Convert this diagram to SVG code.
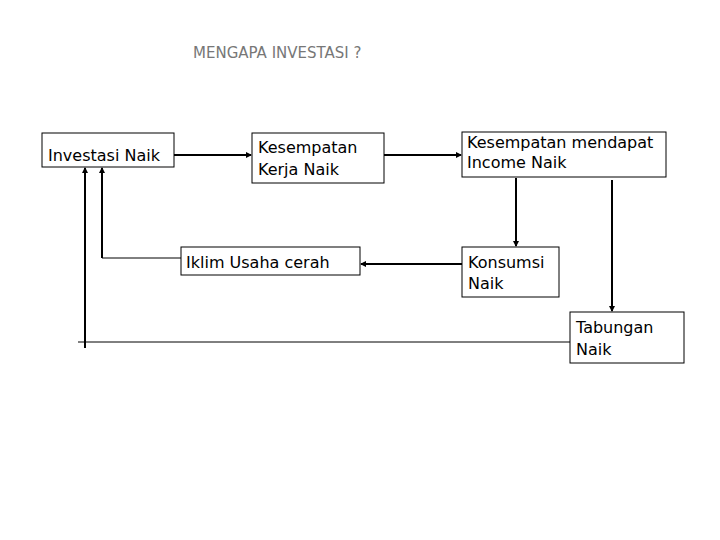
<svg xmlns="http://www.w3.org/2000/svg" width="720" height="540" viewBox="0 0 720 540">
<style>
.b{fill:#fff;stroke:#000;stroke-width:1}
.t{font-family:"DejaVu Sans",Verdana,sans-serif;font-size:16px;fill:#000}
.c{fill:none;stroke:#000;stroke-width:2}
.thin{fill:none;stroke:#000;stroke-width:1}
</style>
<defs><marker id="a" markerWidth="6" markerHeight="6" refX="5" refY="3" orient="auto" markerUnits="userSpaceOnUse"><path d="M0,0L6,3L0,6z" fill="#000"/></marker></defs>
<rect width="720" height="540" fill="#fff"/>
<text x="193" y="58" font-family="DejaVu Sans,sans-serif" font-size="15" fill="#777">MENGAPA INVESTASI ?</text>
<g id="connectors">
<path class="c" d="M174,155H251" marker-end="url(#a)"/>
<path class="c" d="M384,155H461" marker-end="url(#a)"/>
<path class="c" d="M516,178V246" marker-end="url(#a)"/>
<path class="c" d="M612,180V311" marker-end="url(#a)"/>
<path class="c" d="M462,264H361" marker-end="url(#a)"/>
<path class="thin" d="M181,258H102"/><path class="c" d="M102,258V168" marker-end="url(#a)"/>
<path class="thin" d="M570,342H78"/><path class="c" d="M85,348V168" marker-end="url(#a)"/>
</g>
<g id="n1"><rect class="b" x="42" y="133" width="132" height="34"/><text class="t" x="48" y="161">Investasi Naik</text></g>
<g id="n2"><rect class="b" x="252" y="133" width="132" height="50"/><text class="t" x="258" y="153">Kesempatan</text><text class="t" x="258" y="175">Kerja Naik</text></g>
<g id="n3"><rect class="b" x="462" y="132" width="204" height="45"/><text class="t" x="467" y="148">Kesempatan mendapat</text><text class="t" x="467" y="168">Income Naik</text></g>
<g id="n4"><rect class="b" x="181" y="247" width="179" height="28"/><text class="t" x="186" y="268">Iklim Usaha cerah</text></g>
<g id="n5"><rect class="b" x="462" y="247" width="97" height="50"/><text class="t" x="468" y="268">Konsumsi</text><text class="t" x="468" y="289">Naik</text></g>
<g id="n6"><rect class="b" x="570" y="312" width="114" height="51"/><text class="t" x="576" y="333">Tabungan</text><text class="t" x="576" y="355">Naik</text></g>
</svg>
